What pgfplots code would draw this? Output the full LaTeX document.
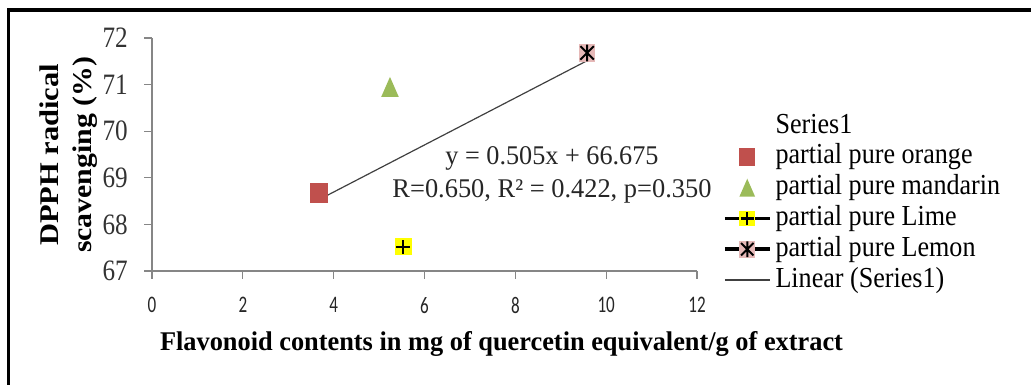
\documentclass[border=0pt]{standalone}
\usepackage{pgfplots}
\pgfplotsset{compat=1.18}
\usepackage{fontspec}
\usepackage{graphicx}
\setmainfont{Liberation Serif}
\newfontfamily\legfont{Liberation Serif}[FakeStretch=0.9]
\newfontfamily\ytfont{Liberation Serif}[FakeStretch=0.85]
\newfontfamily\xtfont{Carlito}[FakeStretch=0.72]
\definecolor{orangered}{HTML}{C0504D}
\definecolor{mandgreen}{HTML}{9BBB59}
\definecolor{limeyellow}{HTML}{FFFF00}
\definecolor{lemonpink}{HTML}{E6B9B8}
\definecolor{axisgray}{HTML}{868686}
\definecolor{trendgray}{HTML}{404040}
\pgfdeclareplotmark{osq}{%
  \pgfpathrectangle{\pgfpoint{-\pgfplotmarksize}{-1.14\pgfplotmarksize}}{\pgfpoint{2\pgfplotmarksize}{2.28\pgfplotmarksize}}%
  \pgfsetfillcolor{orangered}\pgfusepath{fill}}
\pgfdeclareplotmark{mtri}{%
  \pgfpathmoveto{\pgfpoint{0pt}{1.14\pgfplotmarksize}}%
  \pgfpathlineto{\pgfpoint{\pgfplotmarksize}{-1.14\pgfplotmarksize}}%
  \pgfpathlineto{\pgfpoint{-\pgfplotmarksize}{-1.14\pgfplotmarksize}}%
  \pgfpathclose\pgfsetfillcolor{mandgreen}\pgfusepath{fill}}
\pgfdeclareplotmark{lime}{%
  \pgfpathrectangle{\pgfpoint{-\pgfplotmarksize}{-\pgfplotmarksize}}{\pgfpoint{2\pgfplotmarksize}{2\pgfplotmarksize}}%
  \pgfsetfillcolor{limeyellow}\pgfusepath{fill}%
  \pgfsetlinewidth{2.4pt}\pgfsetstrokecolor{black}%
  \pgfpathmoveto{\pgfpoint{-0.85\pgfplotmarksize}{0pt}}\pgfpathlineto{\pgfpoint{0.85\pgfplotmarksize}{0pt}}%
  \pgfpathmoveto{\pgfpoint{0pt}{-0.85\pgfplotmarksize}}\pgfpathlineto{\pgfpoint{0pt}{0.85\pgfplotmarksize}}%
  \pgfusepath{stroke}}
\pgfdeclareplotmark{lemon}{%
  \pgfpathrectangle{\pgfpoint{-\pgfplotmarksize}{-1.1\pgfplotmarksize}}{\pgfpoint{2\pgfplotmarksize}{2.2\pgfplotmarksize}}%
  \pgfsetfillcolor{lemonpink}\pgfusepath{fill}%
  \pgfsetlinewidth{2pt}\pgfsetstrokecolor{black}%
  \pgfpathmoveto{\pgfpoint{0pt}{-1\pgfplotmarksize}}\pgfpathlineto{\pgfpoint{0pt}{1\pgfplotmarksize}}%
  \pgfpathmoveto{\pgfpoint{-0.8\pgfplotmarksize}{-0.8\pgfplotmarksize}}\pgfpathlineto{\pgfpoint{0.8\pgfplotmarksize}{0.8\pgfplotmarksize}}%
  \pgfpathmoveto{\pgfpoint{-0.8\pgfplotmarksize}{0.8\pgfplotmarksize}}\pgfpathlineto{\pgfpoint{0.8\pgfplotmarksize}{-0.8\pgfplotmarksize}}%
  \pgfusepath{stroke}}
\pgfplotsset{mylegend/.style={legend image code/.code={\draw[mark repeat=2,mark phase=2,##1] plot coordinates {(0pt,0pt)(22.5pt,0pt)(45pt,0pt)};}}}
\begin{document}
\begin{tikzpicture}
\useasboundingbox (0pt,0pt) rectangle (1031pt,385pt);
\draw[line width=3.3pt, black] (8.6pt,0pt) -- (8.6pt,375pt) -- (1031pt,375pt);
\begin{axis}[
  at={(152pt,114pt)}, anchor=south west,
  scale only axis, width=545pt, height=233pt,
  xmin=0, xmax=12, ymin=67, ymax=72,
  xtick={0,2,4,6,8,10,12}, ytick={67,68,69,70,71,72},
  axis x line*=bottom, axis y line*=left,
  axis line style={draw=axisgray, line width=1.2pt},
  tick style={draw=axisgray, line width=1.2pt},
  tick align=outside, major tick length=8pt,
  /pgf/number format/assume math mode=true,
  xticklabel style={font=\xtfont\fontsize{23.7}{24}\selectfont, text=black!85, anchor=north, inner sep=0pt, yshift=-18pt},
  yticklabel style={font=\ytfont\fontsize{29.6}{30}\selectfont, text=black!80, anchor=east, inner sep=0pt, xshift=-16pt},
  xlabel={\resizebox{683pt}{\height}{Flavonoid contents in mg of quercetin equivalent/g of extract}},
  xlabel style={font=\fontsize{27}{27}\selectfont\bfseries, at={(axis description cs:0.6413,-0.343)}, anchor=base, inner sep=0pt},
  ylabel={\resizebox{182pt}{\height}{DPPH radical}\\\resizebox{196pt}{\height}{scavenging (\%)}},
  ylabel style={align=center, font=\fontsize{27}{33}\selectfont\bfseries, at={(axis description cs:-0.1532,0.498)}, anchor=center, inner sep=0pt},
  legend style={at={(axis description cs:1.0477,0.678)}, anchor=north west, draw=none, fill=none,
    inner sep=0pt, outer sep=0pt, row sep=4.8pt, column sep=4pt,
    font=\legfont\fontsize{29}{30}\selectfont,
    nodes={inner sep=0pt, text height=20pt, text depth=6pt}},
  legend cell align=left,
  legend image post style={mark size=7.8pt},
  clip=false,
]
\addlegendimage{empty legend}\addlegendentry{Series1}
\addplot[only marks, mark=osq, mark size=8.8pt, mylegend] coordinates {(3.68,68.67)};
\addlegendentry{partial pure orange}
\addplot[only marks, mark=mtri, mark size=8.8pt, mylegend] coordinates {(5.24,70.95)};
\addlegendentry{partial pure mandarin}
\addplot[black, line width=3.5pt, mark=lime, mark size=8.4pt, mylegend] coordinates {(5.53,67.52)};
\addlegendentry{partial pure Lime}
\addplot[black, line width=3.5pt, mark=lemon, mark size=8.4pt, mylegend] coordinates {(9.58,71.68)};
\addlegendentry{partial pure Lemon}
\addplot[trendgray, line width=1.2pt, no marks, mylegend] coordinates {(3.68,68.533) (9.58,71.513)};
\addlegendentry{Linear (Series1)}
\node[anchor=base, inner sep=0pt, font=\fontsize{27}{27}\selectfont, text=black!85] at (axis cs:8.807,69.275) {\resizebox{213pt}{\height}{y = 0.505x + 66.675}};
\node[anchor=base, inner sep=0pt, font=\fontsize{27}{27}\selectfont, text=black!85] at (axis cs:8.807,68.567) {\resizebox{319pt}{\height}{R=0.650, R² = 0.422, p=0.350}};
\end{axis}
\end{tikzpicture}
\end{document}
